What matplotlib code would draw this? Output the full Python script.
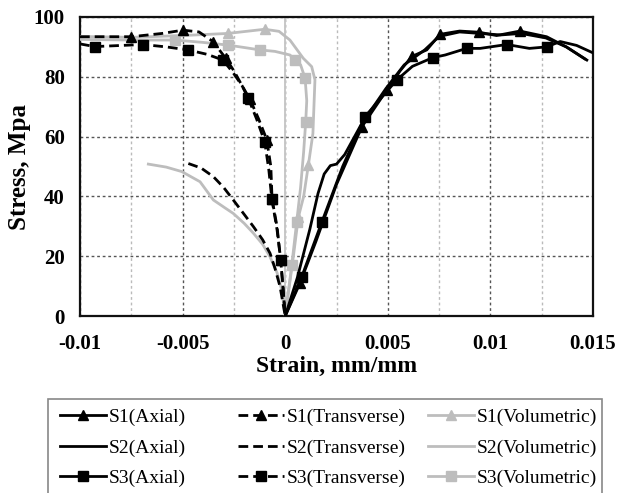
import matplotlib
matplotlib.use("Agg")
import matplotlib.pyplot as plt
from matplotlib.ticker import MultipleLocator, FuncFormatter
from matplotlib.patches import Rectangle

# ---------------- data ----------------
s1_ax_x = [0, 0.00072, 0.0015, 0.0025, 0.00374, 0.00495, 0.0056, 0.00617, 0.0069, 0.00754, 0.0085, 0.00946, 0.0103, 0.01144, 0.01274, 0.0137, 0.0147]
s1_ax_y = [0, 11, 25, 44, 63.3, 75.6, 82, 86.8, 89, 94.2, 95.3, 94.9, 93.8, 95.3, 93.4, 90, 85.6]
s1_ax_m = [1, 4, 5, 7, 9, 11, 13]

s2_ax_x = [0, 0.0006, 0.0012, 0.0016, 0.0019, 0.0022, 0.0025, 0.0029, 0.0037, 0.0049, 0.0058, 0.0068, 0.0075, 0.0085, 0.0095, 0.0105, 0.0115, 0.0127, 0.0137, 0.0146]
s2_ax_y = [0, 13, 29, 41, 47.5, 50.3, 50.8, 54, 64, 76, 84, 89, 93.5, 95, 94.5, 94, 94.5, 93, 90, 86]

s3_ax_x = [0, 0.0008, 0.00179, 0.0028, 0.00389, 0.00543, 0.0062, 0.00719, 0.0078, 0.00884, 0.0095, 0.0108, 0.0119, 0.01274, 0.0134, 0.0142, 0.015]
s3_ax_y = [0, 13, 31.5, 50, 66.7, 78.9, 83.5, 86.4, 87.3, 89.5, 89.5, 90.8, 89.5, 90, 91.8, 90.5, 88]
s3_ax_m = [1, 2, 4, 5, 7, 9, 11, 13]

s1_tr_x = [-0.01, -0.0075, -0.006, -0.00498, -0.0042, -0.00352, -0.0029, -0.0025, -0.0021, -0.00172, -0.0013, -0.0009, -0.0007, -0.00064, -0.0004, -0.00022, -0.0001, 0]
s1_tr_y = [93.4, 93.4, 94.5, 95.6, 95, 91.8, 86.2, 82, 77, 72.5, 66, 59, 50, 39, 30, 18.7, 9, 0]
s1_tr_m = [1, 3, 5, 6, 9, 11, 13, 15]

s2_tr_x = [-0.00472, -0.0041, -0.0035, -0.003, -0.00253, -0.002, -0.00155, -0.0011, -0.00074, -0.0005, -0.00025, 0]
s2_tr_y = [51, 49.5, 46.6, 43, 38.8, 34, 29.9, 25.5, 21, 16, 9.8, 0]

s3_tr_x = [-0.01, -0.00928, -0.00693, -0.0058, -0.00474, -0.0038, -0.00303, -0.0025, -0.0021, -0.0018, -0.0014, -0.001, -0.0008, -0.00065, -0.0004, -0.00022, -0.0001, 0]
s3_tr_y = [91, 90.1, 90.8, 90, 89, 87.5, 85.6, 81, 77, 72.8, 66, 58.3, 49, 39.1, 29, 18.7, 9, 0]
s3_tr_m = [1, 2, 4, 6, 9, 11, 13, 15]

s1_vo_x = [-0.01, -0.0075, -0.005, -0.0028, -0.001, -0.0003, 0.00023, 0.00088, 0.00129, 0.00145, 0.0014, 0.00135, 0.00113, 0.0009, 0.00064, 0.0004, 0.0002, 0]
s1_vo_y = [93.5, 93.2, 93.8, 94.5, 95.9, 95.2, 92.3, 86.2, 83.4, 79, 70, 61, 50.5, 40, 33, 20, 10, 0]
s1_vo_m = [3, 4, 12, 14]

s2_vo_x = [-0.00667, -0.0058, -0.00504, -0.00415, -0.0035, -0.0029, -0.00253, -0.002, -0.00155, -0.0011, -0.00074, -0.0004, -0.00017, 0]
s2_vo_y = [50.8, 49.8, 48.3, 44.9, 38.8, 36, 34.3, 31, 27.7, 24, 19.8, 14.5, 8.7, 0]

s3_vo_x = [-0.01, -0.0075, -0.00539, -0.004, -0.00279, -0.002, -0.00124, -0.0005, 0.00023, 0.00048, 0.00075, 0.00097, 0.00105, 0.001, 0.0009, 0.00075, 0.00056, 0.00032, 0.00015, 0]
s3_vo_y = [92.5, 92.3, 92.3, 91.5, 90.6, 89.8, 89, 88.5, 87.3, 85.6, 84, 79.5, 72, 65, 55, 43, 31.5, 17, 8, 0]
s3_vo_m = [2, 4, 6, 9, 11, 13, 16, 17]

labels = ["S1(Axial)", "S2(Axial)", "S3(Axial)",
          "S1(Transverse)", "S2(Transverse)", "S3(Transverse)",
          "S1(Volumetric)", "S2(Volumetric)", "S3(Volumetric)"]

x_ticks = [-0.01, -0.005, 0, 0.005, 0.01, 0.015]
y_ticks = [0, 20, 40, 60, 80, 100]

# ---------------- style ----------------
plt.rcParams['font.family'] = ['Liberation Serif', 'DejaVu Serif']
BLACK = '#000000'
GRAY = '#BDBDBD'
LW = 2.0
DASH = (0, (3.5, 1.8))

fig = plt.figure(figsize=(6.31, 4.93), dpi=100)
ax = fig.add_axes([80/631, 1 - 316/493, 513/631, 299/493])

def plot(x, y, color, ls, marker, mev, label, z):
    kw = dict(color=color, lw=LW, ls=ls, label=label, zorder=z)
    if marker:
        kw.update(marker=marker, markevery=mev, markersize=7 if marker == '^' else 6.5,
                  markerfacecolor=color, markeredgecolor=color)
    return ax.plot(x, y, **kw)[0]

h = []
h.append(plot(s1_ax_x, s1_ax_y, BLACK, '-', '^', s1_ax_m, labels[0], 5))
h.append(plot(s2_ax_x, s2_ax_y, BLACK, '-', None, None, labels[1], 5))
h.append(plot(s3_ax_x, s3_ax_y, BLACK, '-', 's', s3_ax_m, labels[2], 5))
h.append(plot(s1_tr_x, s1_tr_y, BLACK, DASH, '^', s1_tr_m, labels[3], 5))
h.append(plot(s2_tr_x, s2_tr_y, BLACK, DASH, None, None, labels[4], 5))
h.append(plot(s3_tr_x, s3_tr_y, BLACK, DASH, 's', s3_tr_m, labels[5], 5))
h.append(plot(s1_vo_x, s1_vo_y, GRAY, '-', '^', s1_vo_m, labels[6], 4))
h.append(plot(s2_vo_x, s2_vo_y, GRAY, '-', None, None, labels[7], 4))
h.append(plot(s3_vo_x, s3_vo_y, GRAY, '-', 's', s3_vo_m, labels[8], 4))

ax.set_xlim(-0.01, 0.015)
ax.set_ylim(0, 100)
ax.set_xticks(x_ticks)
ax.set_yticks(y_ticks)
ax.xaxis.set_minor_locator(MultipleLocator(0.0025))
ax.xaxis.set_major_formatter(FuncFormatter(lambda v, p: "0" if abs(v) < 1e-12 else ("%g" % v)))
ax.tick_params(axis='both', which='both', length=0)
ax.tick_params(axis='x', pad=13, labelsize=15)
ax.tick_params(axis='y', pad=11, labelsize=15)
for lab in ax.get_xticklabels() + ax.get_yticklabels():
    lab.set_fontweight('bold')

ax.grid(which='major', axis='both', color='#555555', ls=(0, (2, 2)), lw=1.0, zorder=1)
ax.grid(which='minor', axis='x', color='#BBBBBB', ls=(0, (2, 2)), lw=1.0, zorder=1)
ax.axvline(0, color='#C8C8C8', lw=1.4, zorder=2)
ax.set_axisbelow(True)

for s in ax.spines.values():
    s.set_linewidth(1.6)
    s.set_color('#111111')

ax.set_xlabel("Strain, mm/mm", fontsize=17, fontweight='bold')
ax.set_ylabel("Stress, Mpa", fontsize=18, fontweight='bold')
ax.xaxis.set_label_coords(0.5, -0.135)
ax.yaxis.set_label_coords(-0.095, 0.5)

# legend: three columns with equal widths inside one frame
frame = Rectangle((48/631, 1 - 500/493), (602-48)/631, (500-399)/493,
                  transform=fig.transFigure, facecolor='white', edgecolor='#888888', lw=1.2)
fig.patches.append(frame)
col_x = [46, 224, 414]
for c in range(3):
    leg = fig.legend(handles=h[3*c:3*c+3], labels=labels[3*c:3*c+3],
                     loc='upper left', bbox_to_anchor=(col_x[c]/631, 1 - 395/493),
                     frameon=False, fontsize=14, handlelength=2.4, handletextpad=0.15,
                     labelspacing=0.66, borderpad=0.2, numpoints=1)

fig.savefig("out.png", dpi=100)
